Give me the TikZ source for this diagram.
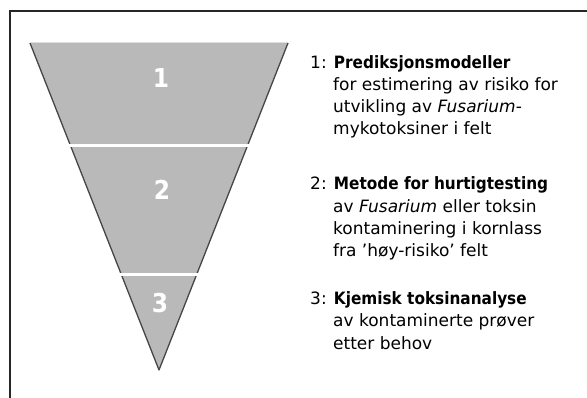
\documentclass[tikz,border=0pt]{standalone}
\usepackage{fontspec}
\setmainfont[BoldFeatures={FakeStretch=0.9}]{DejaVu Sans}
\usetikzlibrary{positioning, calc}

\begin{document}
\begin{tikzpicture}[
    % GLOBAL CFG
    x=1pt, y=-1pt,
    % Styles
    frame/.style={% For the outer frame
        draw,
        line width=1.2pt,
        black!85,
        },
    funnel/.style={% For the gray funnel
        fill=gray!55,
        },
    rim/.style={% For the slanted sides
        draw=gray!55!black,
        line width=1.3pt,
        line join=round,
        },
    divider/.style={% For the white lines between levels
        draw=white,
        line width=3pt,
        },
    level/.style={% For the numbers inside the funnel
        text=white,
        inner sep=0pt,
        font=\fontsize{26}{26}\selectfont\bfseries,
        },
    head/.style={% For the first line of each item
        anchor=base west,
        inner sep=0pt,
        font=\fontsize{17}{22}\selectfont,
        },
    body/.style={% For the rest of each item (base = last line)
        anchor=base west,
        inner sep=0pt,
        align=left,
        font=\fontsize{17}{22}\selectfont,
        },
    ]
\useasboundingbox (0,0) rectangle (587,398);
% Frame
\coordinate (fbl) at (10,398);
\coordinate (ftl) at (10,11);
\coordinate (ftr) at (587,11);
\draw [frame] (fbl) -- (ftl) -- (ftr);
% Funnel corners named tl, tr and apex
\coordinate (tl) at (30,43);
\coordinate (tr) at (288,43);
\coordinate (apex) at (159,370);
\fill [funnel] (tl) -- (tr) -- (apex) -- cycle;
\draw [rim] (tl) -- (apex) -- (tr);
\draw [gray!25, line width=1pt] (tl) -- (tr);
% Level borders
\path (tl) -- (apex) coordinate[pos=0.312] (l1) coordinate[pos=0.709] (l2);
\path (tr) -- (apex) coordinate[pos=0.312] (r1) coordinate[pos=0.709] (r2);
\draw [divider] ([xshift=-1pt]l1) -- ([xshift=1pt]r1);
\draw [divider] ([xshift=-3pt]l2) -- ([xshift=2pt]r2);
% Level numbers
\node [level] (n1) at (161,78) {1};
\node [level] (n2) at (162,190) {2};
\node [level] (n3) at (160,303) {3};
% Texts
\node [head] (h1) at (310,69) {1: \textbf{Prediksjonsmodeller}};
\node [body] (b1) at (333,135) {for estimering av risiko for\\utvikling av \textit{Fusarium}-\\mykotoksiner i felt};
\node [head] (h2) at (310,190) {2: \textbf{Metode for hurtigtesting}};
\node [body] (b2) at (333,257) {av \textit{Fusarium} eller toksin\\kontaminering i kornlass\\fra ’høy-risiko’ felt};
\node [head] (h3) at (310,305) {3: \textbf{Kjemisk toksinanalyse}};
\node [body] (b3) at (333,349) {av kontaminerte prøver\\etter behov};
\end{tikzpicture}
\end{document}
